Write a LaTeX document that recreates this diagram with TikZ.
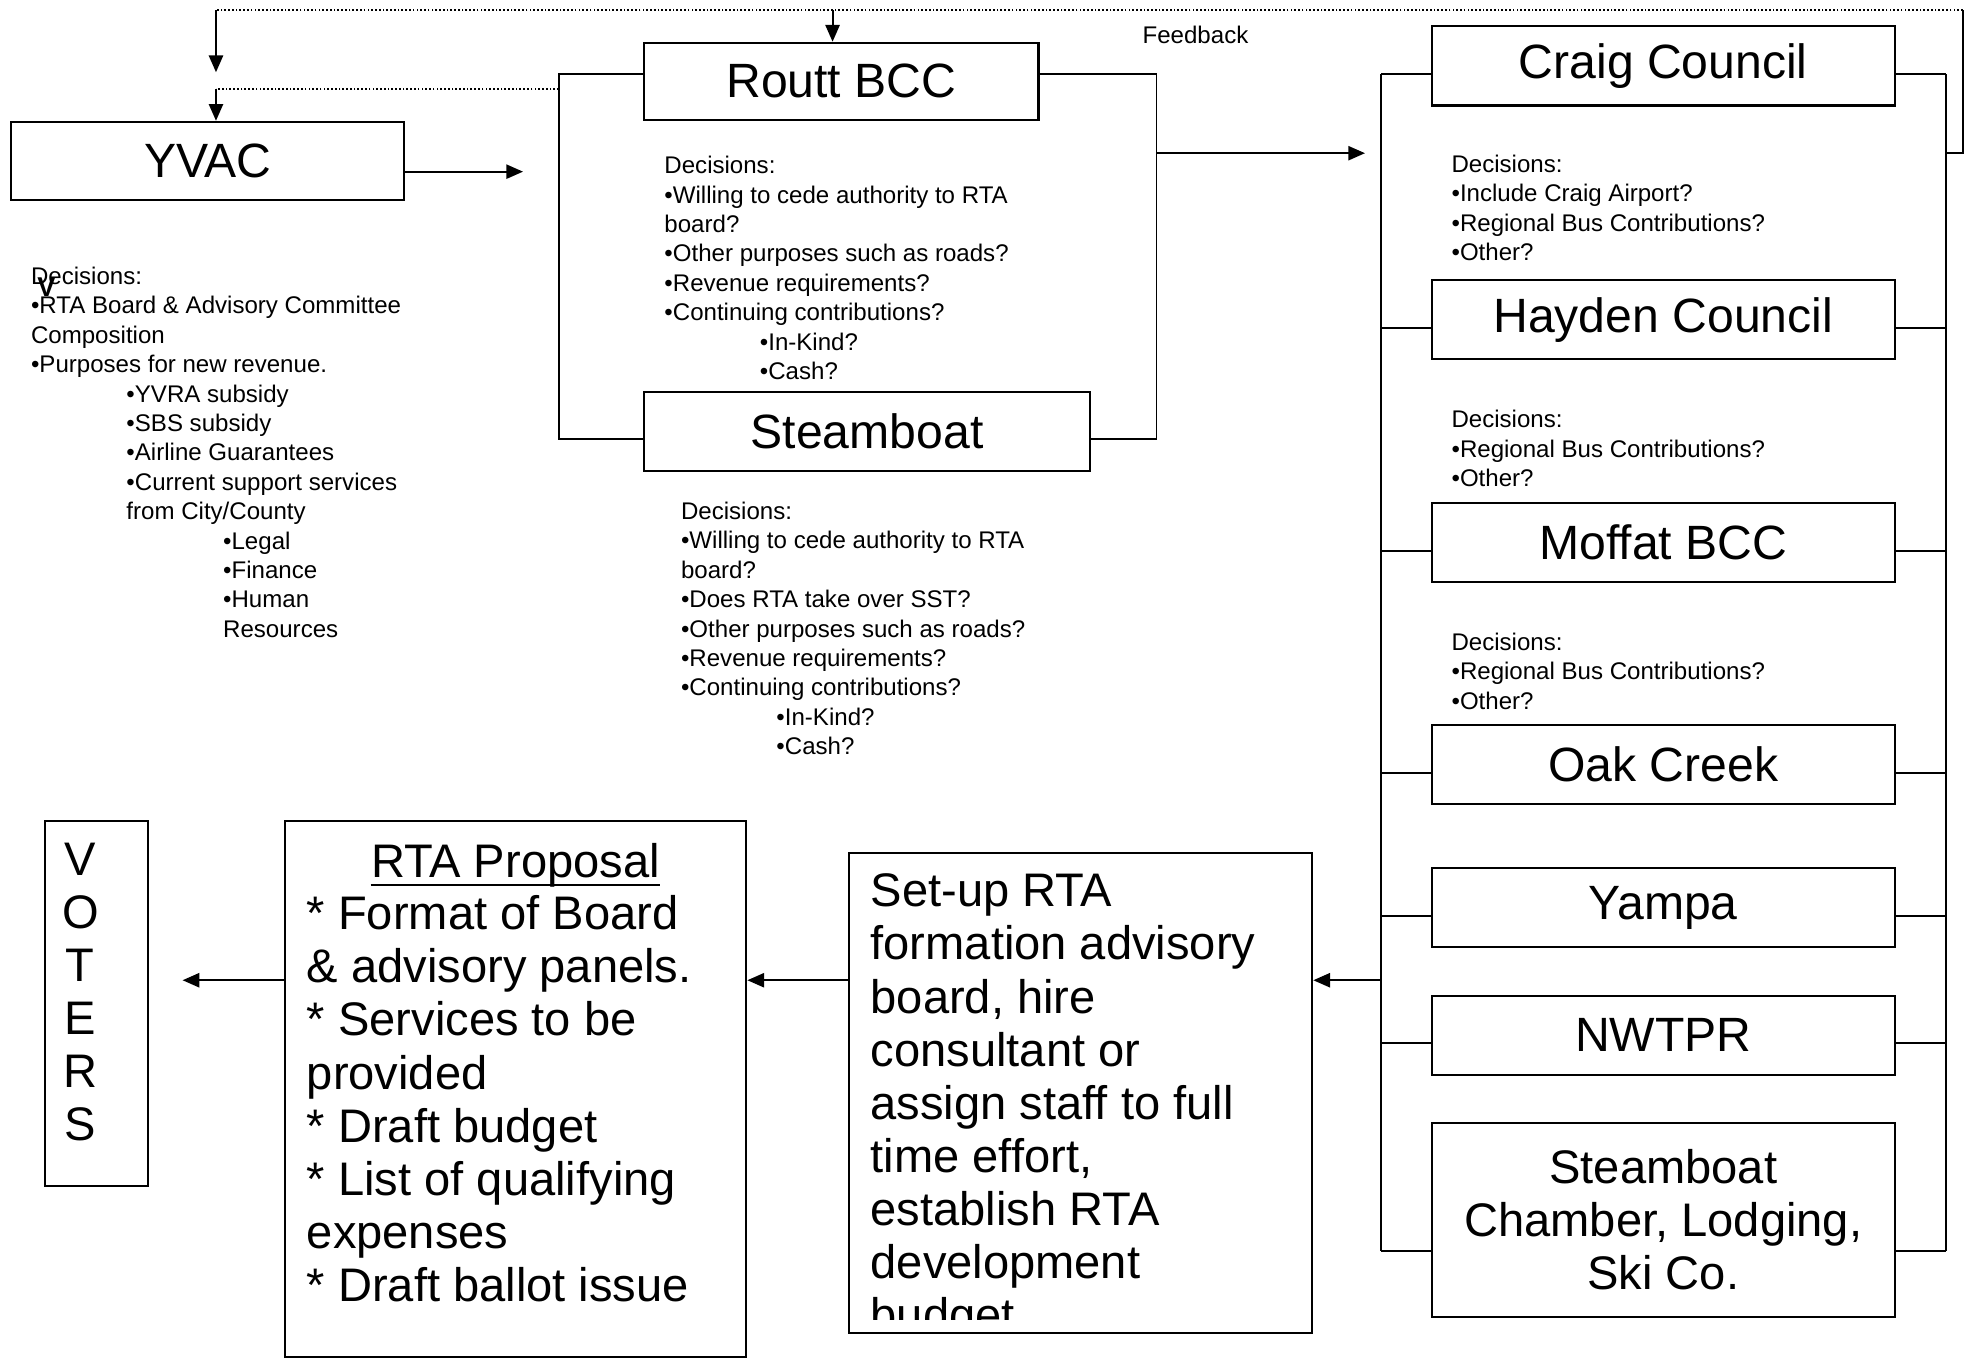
\documentclass[tikz,border=0pt]{standalone}
\usepackage{fontspec}
\setmainfont{Liberation Sans}
\usetikzlibrary{arrows.meta}

\newlength{\pxunit}
\setlength{\pxunit}{0.6pt}
\newcommand{\bigsize}{\fontsize{22.5}{25.4}\selectfont}
\newcommand{\smallsize}{\fontsize{11.5}{14.04}\selectfont}
\newcommand{\ind}[1]{\hspace*{#1\pxunit}}

\tikzset{
  bodybox/.style={draw, line width=1pt, inner sep=0pt},
  titlebox/.style={bodybox, font=\fontsize{23}{26}\selectfont,
    minimum width=369\pxunit, minimum height=63\pxunit},
  decisions/.style={anchor=north west, inner sep=0pt, align=left, font=\smallsize},
  bigtext/.style={anchor=north west, inner sep=0pt, align=left, font=\bigsize},
  link/.style={line width=0.9pt},
  feedback/.style={line width=0.8pt, densely dotted},
  flow/.style={link, -{Triangle[length=8pt,width=6.8pt]}},
}

\begin{document}
\begin{tikzpicture}[x=\pxunit, y=-\pxunit]
    \fill[white] (0,0) rectangle (1568,1082.2);
    \useasboundingbox (0,0) rectangle (1568,1082.2);
    %yvac and its decisions
    \node[titlebox, minimum width=313\pxunit, minimum height=62\pxunit] (yvac) at (165.5,128) {YVAC};
    \node[decisions] (yvacdec) at (24.4,212.4) {Decisions:\\
      •RTA Board \& Advisory Committee\\
      Composition\\
      •Purposes for new revenue.\\
      \ind{76}•YVRA subsidy\\
      \ind{76}•SBS subsidy\\
      \ind{76}•Airline Guarantees\\
      \ind{76}•Current support services\\
      \ind{76}from City/County\\
      \ind{153}•Legal\\
      \ind{153}•Finance\\
      \ind{153}•Human\\
      \ind{153}Resources};
    \node[font=\fontsize{13}{14}\selectfont\bfseries, inner sep=0pt] (stray) at (37,229) {V};
    %routt group
    \node[titlebox, minimum width=314\pxunit, minimum height=61.5\pxunit] (routt) at (670,64.8) {Routt BCC};
    \node[decisions] (routtdec) at (528.8,124.2) {Decisions:\\
      •Willing to cede authority to RTA\\
      board?\\
      •Other purposes such as roads?\\
      •Revenue requirements?\\
      •Continuing contributions?\\
      \ind{76}•In-Kind?\\
      \ind{76}•Cash?};
    \node[titlebox, minimum width=355\pxunit] (steam) at (690.5,343.5) {Steamboat};
    \node[decisions] (steamdec) at (542,399.5) {Decisions:\\
      •Willing to cede authority to RTA\\
      board?\\
      •Does RTA take over SST?\\
      •Other purposes such as roads?\\
      •Revenue requirements?\\
      •Continuing contributions?\\
      \ind{76}•In-Kind?\\
      \ind{76}•Cash?};
    %right column of councils
    \node[titlebox] (craig) at (1324.5,52.5) {Craig Council};
    \node[titlebox] (hayden) at (1324.5,254.7) {Hayden Council};
    \node[titlebox] (moffat) at (1324.5,432) {Moffat BCC};
    \node[titlebox] (oak) at (1324.5,609) {Oak Creek};
    \node[titlebox] (yampa) at (1324.5,722.9) {Yampa};
    \node[titlebox] (nwtpr) at (1324.5,824.5) {NWTPR};
    \node[titlebox, minimum height=154\pxunit, align=center, font=\bigsize] (chamber) at (1324.5,971.5)
      {Steamboat\\Chamber, Lodging,\\Ski Co.};
    \node[decisions] (craigdec) at (1155.6,123) {Decisions:\\
      •Include Craig Airport?\\
      •Regional Bus Contributions?\\
      •Other?};
    \node[decisions] (haydendec) at (1155.6,326.5) {Decisions:\\
      •Regional Bus Contributions?\\
      •Other?};
    \node[decisions] (moffatdec) at (1155.6,503.7) {Decisions:\\
      •Regional Bus Contributions?\\
      •Other?};
    %bottom row
    \node[bodybox, minimum width=369\pxunit, minimum height=382.5\pxunit] (setup) at (860.5,870.25) {};
    \begin{scope}
      \clip (677,680) rectangle (1044,1051);
      \node[bigtext] (setuptext) at (693,695.5) {Set-up RTA\\
        formation advisory\\
        board, hire\\
        consultant or\\
        assign staff to full\\
        time effort,\\
        establish RTA\\
        development\\
        budget};
    \end{scope}
    \node[bodybox, minimum width=367.7\pxunit, minimum height=426.7\pxunit] (rta) at (410.5,867.3) {};
    \node[anchor=north, inner sep=0pt, font=\bigsize] (rtatitle) at (410.5,671.6) {RTA Proposal};
    \draw[line width=1.1pt] ([yshift=-3.4pt]rtatitle.base west) -- ([yshift=-3.4pt]rtatitle.base east);
    \node[bigtext] (rtalist) at (244,712.8) {* Format of Board\\
      \& advisory panels.\\
      * Services to be\\
      provided\\
      * Draft budget\\
      * List of qualifying\\
      expenses\\
      * Draft ballot issue};
    \node[bodybox, minimum width=82\pxunit, minimum height=291\pxunit] (voters) at (76.7,799.1) {};
    \node[anchor=north, inner sep=0pt, align=center, font=\bigsize] (voterstext) at (64,670.7)
      {V\\O\\T\\E\\R\\S};
    %connectors of routt group
    \coordinate (rlt) at (445,59);
    \coordinate (rlb) at (445,349.6);
    \coordinate (rrt) at (921,59);
    \coordinate (rrb) at (921,349.6);
    \draw[link] (routt.west |- rlt) -- (rlt) -- (rlb) -- (steam.west |- rlb);
    \draw[link] (routt.east |- rrt) -- (rrt) -- (rrb) -- (steam.east |- rrb);
    \coordinate (yvacend) at (416.5,136.7);
    \draw[flow] (yvac.east |- yvacend) -- (yvacend);
    \coordinate (groupend) at (1087,122);
    \draw[flow] (rrt |- groupend) -- (groupend);
    %connectors of right column
    \coordinate (clt) at (1099.5,59);
    \coordinate (clb) at (1099.5,996);
    \coordinate (crt) at (1550,59);
    \coordinate (crb) at (1550,996);
    \draw[link] (clt) -- (clb);
    \draw[link] (crt) -- (crb);
    \foreach \nm/\cy in {craig/59, hayden/261.4, moffat/438.5, oak/615.8,
                         yampa/729.5, nwtpr/830.8, chamber/996}{
      \draw[link] (\nm.west |- 0,\cy) -- (clt |- 0,\cy);
      \draw[link] (\nm.east |- 0,\cy) -- (crt |- 0,\cy);
    }
    %feedback loop
    \coordinate (fbturn) at (1563,122);
    \coordinate (fbright) at (1563,8);
    \coordinate (fbleft) at (172,8);
    \coordinate (fbtip) at (172,57.5);
    \coordinate (fbmid) at (172,71);
    \draw[link] (crt |- fbturn) -- (fbturn) -- (fbright);
    \draw[feedback] (fbright) -- (fbleft);
    \draw[flow] (fbleft) -- (fbtip);
    \draw[flow] (663,8) -- (routt.north -| 663,8);
    \draw[feedback] (rlt |- fbmid) -- (fbmid);
    \draw[flow] (fbmid) -- (yvac.north -| fbmid);
    \node[font=\smallsize, inner sep=0pt] (fblabel) at (952,28) {Feedback};
    %flow to the voters
    \coordinate (colmid) at (1099.5,780.6);
    \coordinate (votersend) at (145.4,780.6);
    \draw[flow] (colmid) -- (setup.east |- colmid);
    \draw[flow] (setup.west |- colmid) -- (rta.east |- colmid);
    \draw[flow] (rta.west |- colmid) -- (votersend);
\end{tikzpicture}
\end{document}
